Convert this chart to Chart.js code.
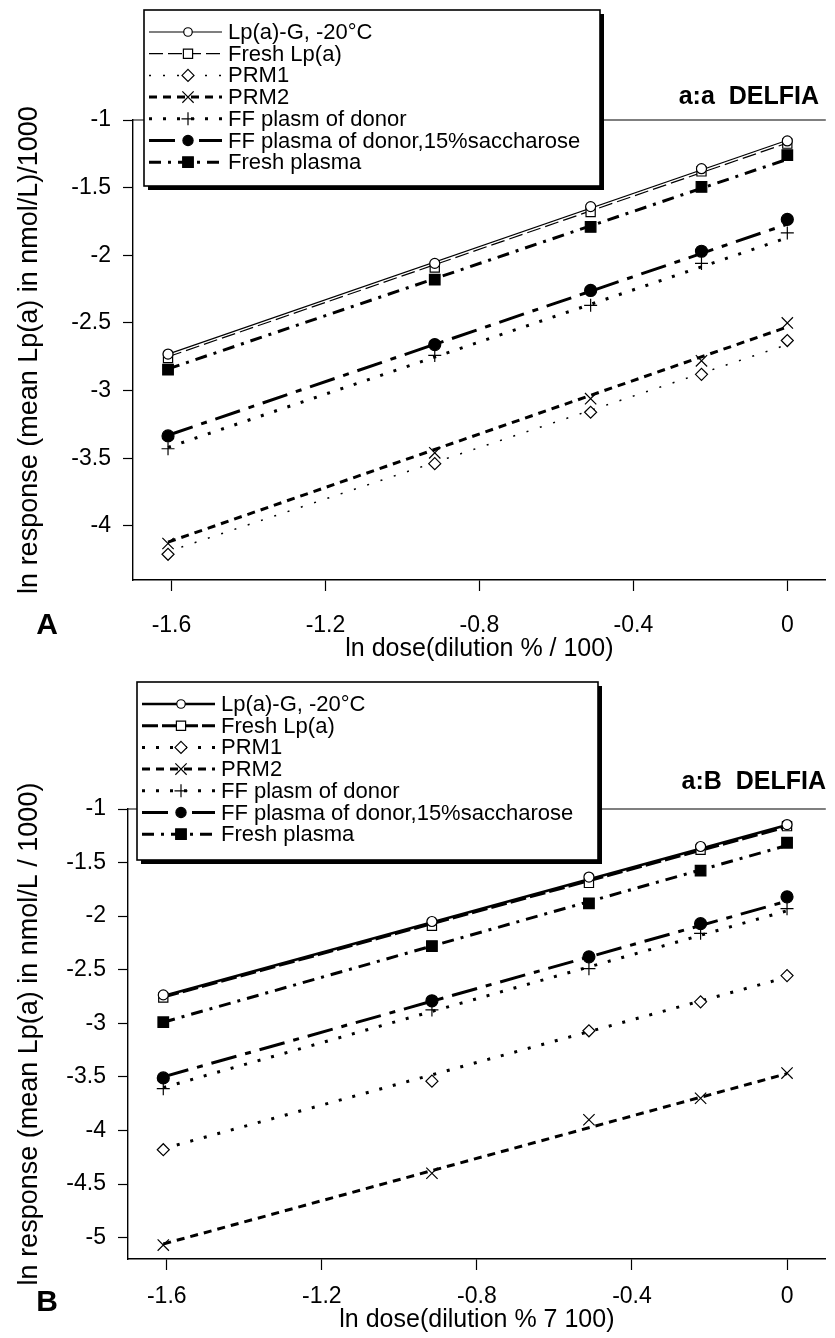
<!DOCTYPE html>
<html>
<head>
<meta charset="utf-8">
<script src="https://cdn.jsdelivr.net/npm/chart.js@4.4.0/dist/chart.umd.min.js"></script>
<style>
  body { margin: 0; background: #fff; }
  canvas { position: absolute; left: 0; }
</style>
</head>
<body>
<canvas id="chartA" width="835" height="670" style="top:0px"></canvas>
<canvas id="chartB" width="835" height="668" style="top:670px"></canvas>
<script>
const FONT = "'Liberation Sans', Arial, Helvetica, sans-serif";

// ln dose = ln(dilution % / 100) for 20, 40, 60, 80, 100 %
const lnDose = [-1.609, -0.916, -0.511, -0.223, 0];
const xTicks = [-1.6, -1.2, -0.8, -0.4, 0];
const yTicksA = [-1, -1.5, -2, -2.5, -3, -3.5, -4];
const yTicksB = [-1, -1.5, -2, -2.5, -3, -3.5, -4, -4.5, -5];

const seriesNames = [
    'Lp(a)-G, -20°C',
    'Fresh Lp(a)',
    'PRM1',
    'PRM2',
    'FF plasm of donor',
    'FF plasma of donor,15%saccharose',
    'Fresh plasma'
];

// Panel A (a:a DELFIA) - measured points
const lpaG_A        = [-2.73, -2.06, -1.64, -1.36, -1.155];
const freshLpa_A    = [-2.76, -2.09, -1.68, -1.38, -1.175];
const prm1_A        = [-4.21, -3.54, -3.16, -2.88, -2.63];
const prm2_A        = [-4.13, -3.46, -3.06, -2.78, -2.50];
const ffDonor_A     = [-3.43, -2.74, -2.37, -2.06, -1.835];
const ffSacch_A     = [-3.335, -2.66, -2.26, -1.97, -1.735];
const freshPlasma_A = [-2.845, -2.18, -1.79, -1.495, -1.26];

// Panel A - fitted lines (value at ln dose -1.609 and 0)
const lpaGFit_A        = [-2.73, -1.15];
const freshLpaFit_A    = [-2.75, -1.17];
const prm1Fit_A        = [-4.19, -2.66];
const prm2Fit_A        = [-4.12, -2.53];
const ffDonorFit_A     = [-3.42, -1.87];
const ffSacchFit_A     = [-3.33, -1.77];
const freshPlasmaFit_A = [-2.84, -1.29];

// Panel B (a:B DELFIA) - measured points
const lpaG_B        = [-2.735, -2.05, -1.635, -1.35, -1.145];
const freshLpa_B    = [-2.76, -2.09, -1.69, -1.38, -1.16];
const prm1_B        = [-4.18, -3.54, -3.07, -2.80, -2.555];
const prm2_B        = [-5.07, -4.40, -3.90, -3.70, -3.465];
const ffDonor_B     = [-3.61, -2.875, -2.49, -2.16, -1.93];
const ffSacch_B     = [-3.51, -2.79, -2.38, -2.07, -1.82];
const freshPlasma_B = [-2.99, -2.28, -1.88, -1.575, -1.315];

// Panel B - fitted lines
const lpaGFit_B        = [-2.745, -1.15];
const freshLpaFit_B    = [-2.755, -1.165];
const prm1Fit_B        = [-4.17, -2.57];
const prm2Fit_B        = [-5.06, -3.47];
const ffDonorFit_B     = [-3.60, -1.95];
const ffSacchFit_B     = [-3.50, -1.86];
const freshPlasmaFit_B = [-2.99, -1.34];

// marker look per series
const seriesStyle = [
    { point: 'circle',   fill: '#fff', radius: 5 },
    { point: 'rect',     fill: '#fff', radius: 6.5 },
    { point: 'rectRot',  fill: '#fff', radius: 6 },
    { point: 'crossRot', fill: '#fff', radius: 8 },
    { point: 'cross',    fill: '#fff', radius: 6.5 },
    { point: 'circle',   fill: '#000', radius: 6 },
    { point: 'rect',     fill: '#000', radius: 7.5 }
];

const panelA = {
    canvas: 'chartA',
    values: [lpaG_A, freshLpa_A, prm1_A, prm2_A, ffDonor_A, ffSacch_A, freshPlasma_A],
    fits: [lpaGFit_A, freshLpaFit_A, prm1Fit_A, prm2Fit_A, ffDonorFit_A, ffSacchFit_A, freshPlasmaFit_A],
    yTicks: yTicksA,
    yMin: -4.4,
    dash: [[], [14, 5], [2, 12], [8, 6], [3, 11], [26, 9, 6, 9], [12, 7, 3, 7]],
    lineWidth: [1.2, 1.2, 1.5, 3, 3, 3, 3],
    top: 120, yAxisW: 133, xAxisH: 90,
    xLabelPad: 21, xTitlePad: 6,
    yTitle: 'ln response (mean Lp(a) in nmol/L)/1000',
    xTitle: 'ln dose(dilution % / 100)',
    letter: 'A', letterY: 626,
    heading: 'a:a  DELFIA', headingX: 819, headingY: 97,
    legend: { x: 144, y: 10, w: 456, h: 176 }
};

const panelB = {
    canvas: 'chartB',
    values: [lpaG_B, freshLpa_B, prm1_B, prm2_B, ffDonor_B, ffSacch_B, freshPlasma_B],
    fits: [lpaGFit_B, freshLpaFit_B, prm1Fit_B, prm2Fit_B, ffDonorFit_B, ffSacchFit_B, freshPlasmaFit_B],
    yTicks: yTicksB,
    yMin: -5.2,
    dash: [[], [16, 4], [3, 11], [8, 6], [3, 11], [26, 9, 6, 9], [12, 7, 3, 7]],
    lineWidth: [2.5, 3, 3, 3, 3, 3, 3],
    top: 139, yAxisW: 128, xAxisH: 79,
    xLabelPad: 13, xTitlePad: 3,
    yTitle: 'ln response (mean Lp(a) in nmol/L / 1000)',
    xTitle: 'ln dose(dilution % 7 100)',
    letter: 'B', letterY: 633,
    heading: 'a:B  DELFIA', headingX: 826, headingY: 112,
    legend: { x: 137, y: 12, w: 461, h: 178 }
};

// small marker painter for the legend box
function drawMarker(ctx, st, x, y) {
    const r = st.radius;
    ctx.beginPath();
    if (st.point === 'circle') {
        ctx.arc(x, y, r * 0.85, 0, Math.PI * 2);
    } else if (st.point === 'rect') {
        const s = r * Math.SQRT1_2;
        ctx.rect(x - s, y - s, 2 * s, 2 * s);
    } else if (st.point === 'rectRot') {
        ctx.moveTo(x, y - r); ctx.lineTo(x + r, y); ctx.lineTo(x, y + r); ctx.lineTo(x - r, y); ctx.closePath();
    } else if (st.point === 'cross') {
        ctx.moveTo(x - r, y); ctx.lineTo(x + r, y); ctx.moveTo(x, y - r); ctx.lineTo(x, y + r);
    } else {
        const s = r * Math.SQRT1_2;
        ctx.moveTo(x - s, y - s); ctx.lineTo(x + s, y + s); ctx.moveTo(x + s, y - s); ctx.lineTo(x - s, y + s);
    }
    if (st.point !== 'cross' && st.point !== 'crossRot') {
        ctx.fillStyle = st.fill;
        ctx.fill();
    }
    ctx.stroke();
}

function decorPlugin(cfg) {
    return {
        id: 'decor' + cfg.letter,
        afterDraw(chart) {
            const ctx = chart.ctx;
            const area = chart.chartArea;
            ctx.save();

            // frame line along the top
            ctx.strokeStyle = '#000';
            ctx.lineWidth = 1.2;
            ctx.beginPath();
            ctx.moveTo(area.left, area.top);
            ctx.lineTo(area.right, area.top);
            ctx.stroke();

            // legend box with shadow
            const lg = cfg.legend;
            ctx.fillStyle = '#000';
            ctx.fillRect(lg.x + 4, lg.y + 4, lg.w, lg.h);
            ctx.fillStyle = '#fff';
            ctx.fillRect(lg.x, lg.y, lg.w, lg.h);
            ctx.lineWidth = 1.6;
            ctx.strokeRect(lg.x, lg.y, lg.w, lg.h);

            seriesNames.forEach((name, i) => {
                const ly = lg.y + 22 + i * 21.7;
                ctx.strokeStyle = '#000';
                ctx.setLineDash(cfg.dash[i]);
                ctx.lineWidth = cfg.lineWidth[i];
                ctx.beginPath();
                ctx.moveTo(lg.x + 5, ly);
                ctx.lineTo(lg.x + 78, ly);
                ctx.stroke();
                ctx.setLineDash([]);
                ctx.lineWidth = 1.2;
                drawMarker(ctx, seriesStyle[i], lg.x + 44, ly);
                ctx.fillStyle = '#000';
                ctx.font = '22px ' + FONT;
                ctx.textBaseline = 'middle';
                ctx.textAlign = 'left';
                ctx.fillText(name, lg.x + 84, ly + 1);
            });

            // panel letter and heading
            ctx.fillStyle = '#000';
            ctx.font = 'bold 30px ' + FONT;
            ctx.textAlign = 'center';
            ctx.fillText(cfg.letter, 47, cfg.letterY);
            ctx.font = 'bold 25px ' + FONT;
            ctx.textAlign = 'right';
            ctx.fillText(cfg.heading, cfg.headingX, cfg.headingY);
            ctx.restore();
        }
    };
}

function makeChart(cfg) {
    const datasets = [];
    seriesNames.forEach((name, i) => {
        const st = seriesStyle[i];
        datasets.push({
            label: name,
            data: lnDose.map((x, k) => ({ x: x, y: cfg.values[i][k] })),
            showLine: false,
            pointStyle: st.point,
            pointRadius: st.radius,
            pointBackgroundColor: st.fill,
            pointBorderColor: '#000',
            pointBorderWidth: 1.2,
            order: 0
        });
        datasets.push({
            label: name + ' (fit)',
            data: [
                { x: lnDose[0], y: cfg.fits[i][0] },
                { x: lnDose[lnDose.length - 1], y: cfg.fits[i][1] }
            ],
            showLine: true,
            borderColor: '#000',
            borderWidth: cfg.lineWidth[i],
            borderDash: cfg.dash[i],
            pointRadius: 0,
            order: 1
        });
    });

    const ctx = document.getElementById(cfg.canvas).getContext('2d');
    return new Chart(ctx, {
        type: 'scatter',
        data: { datasets: datasets },
        options: {
            responsive: false,
            animation: false,
            devicePixelRatio: 1,
            layout: { padding: { top: cfg.top, left: 0, right: 0, bottom: 0 } },
            plugins: {
                legend: { display: false },
                tooltip: { enabled: false }
            },
            scales: {
                x: {
                    type: 'linear',
                    min: -1.7,
                    max: 0.1,
                    afterBuildTicks: (scale) => { scale.ticks = xTicks.map(v => ({ value: v })); },
                    afterFit: (scale) => { scale.height = cfg.xAxisH; },
                    grid: { drawOnChartArea: false, tickLength: 11, tickColor: '#000', tickWidth: 1.2 },
                    border: { color: '#000', width: 1.4 },
                    ticks: {
                        color: '#000',
                        padding: cfg.xLabelPad,
                        maxRotation: 0,
                        font: { family: FONT, size: 23 },
                        callback: (v) => String(v)
                    },
                    title: {
                        display: true,
                        text: cfg.xTitle,
                        color: '#000',
                        font: { family: FONT, size: 25, lineHeight: 1.2 },
                        padding: { top: 0, bottom: cfg.xTitlePad }
                    }
                },
                y: {
                    type: 'linear',
                    min: cfg.yMin,
                    max: -1,
                    afterBuildTicks: (scale) => { scale.ticks = cfg.yTicks.map(v => ({ value: v })); },
                    afterFit: (scale) => { scale.width = cfg.yAxisW; },
                    grid: { drawOnChartArea: false, tickLength: 10, tickColor: '#000', tickWidth: 1.2 },
                    border: { color: '#000', width: 1.4 },
                    ticks: {
                        color: '#000',
                        padding: 12,
                        font: { family: FONT, size: 23 },
                        callback: (v) => String(v)
                    },
                    title: {
                        display: true,
                        text: cfg.yTitle,
                        color: '#000',
                        font: { family: FONT, size: 27, lineHeight: 1.2 },
                        padding: { top: 13, bottom: 0 }
                    }
                }
            }
        },
        plugins: [decorPlugin(cfg)]
    });
}

const chartA = makeChart(panelA);
const chartB = makeChart(panelB);
</script>
</body>
</html>
